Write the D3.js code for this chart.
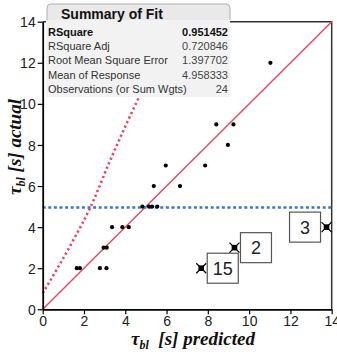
<!DOCTYPE html>
<html>
<head>
<meta charset="utf-8">
<script src="https://cdn.jsdelivr.net/npm/d3@7"></script>
<style>
  body { margin: 0; background: #fff; }
  svg { display: block; }
</style>
</head>
<body>
<div id="chart"></div>
<script>
// data
var predicted = [1.65, 1.8, 2.77, 3.09, 2.95, 3.1, 3.36, 3.86, 4.17, 4.83, 5.15, 5.3, 5.55, 5.38, 6.65, 5.96, 7.87, 8.97, 8.41, 9.24, 11.03];
var actual    = [2, 2, 2, 2, 3, 3, 4, 4, 4, 5, 5, 5, 5, 6, 6, 7, 7, 8, 9, 9, 12];

// excluded rows (labelled)
var exRows = ["15", "2", "3"];
var exPred = [7.68, 9.29, 13.75];
var exAct  = [2, 3, 4];

// confidence curve (dotted red)
var confX = [0, 1.5, 2.29, 3.25, 4.14, 4.85];
var confY = [0.78, 3.4, 4.92, 7.2, 9.21, 10.7];

var meanResponse = 4.958333;
var xTicks = [0, 2, 4, 6, 8, 10, 12, 14];
var yTicks = [0, 2, 4, 6, 8, 10, 12, 14];

var fitLabels = ["RSquare", "RSquare Adj", "Root Mean Square Error", "Mean of Response", "Observations (or Sum Wgts)"];
var fitValues = ["0.951452", "0.720846", "1.397702", "4.958333", "24"];

var W = 337, H = 352;
var svg = d3.select("#chart").append("svg")
    .attr("width", W)
    .attr("height", H);

var x = d3.scaleLinear().domain([0, 14]).range([42.7, 331.7]);
var y = d3.scaleLinear().domain([0, 14]).range([309.3, 21.7]);

var red = "#e8455e", blue = "#3f72d6";

// frame top/right
svg.append("path")
    .attr("d", "M" + x(0) + "," + y(14) + "H" + x(14) + "V" + y(0))
    .attr("fill", "none")
    .attr("stroke", "#333")
    .attr("stroke-width", 1.5);

// fit line y = x
svg.append("line")
    .attr("x1", x(0)).attr("y1", y(0))
    .attr("x2", x(14)).attr("y2", y(14))
    .attr("stroke", red)
    .attr("stroke-width", 1.4);

// confidence curve
svg.append("path")
    .datum(d3.zip(confX, confY))
    .attr("d", d3.line().x(function (d) { return x(d[0]); }).y(function (d) { return y(d[1]); }).curve(d3.curveMonotoneX))
    .attr("fill", "none")
    .attr("stroke", red)
    .attr("stroke-width", 2.6)
    .attr("stroke-dasharray", "2.2,2.8");

// mean line
svg.append("line")
    .attr("x1", x(0)).attr("x2", x(14))
    .attr("y1", y(meanResponse)).attr("y2", y(meanResponse))
    .attr("stroke", blue)
    .attr("stroke-width", 2.6)
    .attr("stroke-dasharray", "3,2.6");

// points
svg.append("g").selectAll("circle")
    .data(d3.zip(predicted, actual))
    .enter().append("circle")
    .attr("cx", function (d) { return x(d[0]); })
    .attr("cy", function (d) { return y(d[1]); })
    .attr("r", 2.1)
    .attr("fill", "#000");

// excluded markers + label boxes
var ex = svg.append("g").selectAll("g")
    .data(d3.range(exRows.length))
    .enter().append("g")
    .attr("transform", function (i) { return "translate(" + x(exPred[i]) + "," + y(exAct[i]) + ")"; });

ex.append("path")
    .attr("d", "M-5,-5L5,5M5,-5L-5,5")
    .attr("stroke", "#000")
    .attr("stroke-width", 1.2);
ex.append("rect")
    .attr("x", -2.8).attr("y", -2.8)
    .attr("width", 5.6).attr("height", 5.6)
    .attr("fill", "#000");

var bw = 31, bh = 30;
ex.each(function (i) {
    var g = d3.select(this);
    var bx = x(exPred[i]) + 6 + bw > x(14) ? -6 - bw : 6;
    g.append("rect")
        .attr("x", bx).attr("y", -bh / 2)
        .attr("width", bw).attr("height", bh)
        .attr("fill", "#fff")
        .attr("stroke", "#555")
        .attr("stroke-width", 1.2);
    g.append("text")
        .attr("x", bx + bw / 2).attr("y", 6.5)
        .attr("text-anchor", "middle")
        .attr("font-family", "Liberation Sans, Arial, sans-serif")
        .attr("font-size", 18)
        .attr("fill", "#222")
        .text(exRows[i]);
});

// axes
var xAxis = svg.append("g")
    .attr("transform", "translate(0," + y(0) + ")")
    .call(d3.axisBottom(x).tickValues(xTicks).tickSize(5).tickPadding(2).tickSizeOuter(0));
var yAxis = svg.append("g")
    .attr("transform", "translate(" + x(0) + ",0)")
    .call(d3.axisLeft(y).tickValues(yTicks).tickSize(5).tickPadding(2).tickSizeOuter(0));

[xAxis, yAxis].forEach(function (a) {
    a.select(".domain").attr("stroke", "#000").attr("stroke-width", 1.8);
    a.selectAll(".tick line").attr("stroke", "#000").attr("stroke-width", 1.2);
    a.selectAll(".tick text")
        .attr("font-family", "Liberation Sans, Arial, sans-serif")
        .attr("font-size", 14)
        .attr("fill", "#222");
});
yAxis.selectAll(".tick text").attr("dy", "0.36em");

// axis titles
var serif = "Liberation Serif, Times New Roman, serif";
function tauLabel(sel, rest) {
    sel.attr("font-family", serif)
        .attr("font-weight", "bold")
        .attr("font-style", "italic")
        .attr("font-size", 19)
        .attr("fill", "#111");
    sel.append("tspan").text("\u03c4");
    sel.append("tspan").attr("font-size", 12).attr("dy", 4).text("bl");
    sel.append("tspan").attr("dy", -4).attr("xml:space", "preserve").text(rest);
}
svg.append("text")
    .attr("x", 193).attr("y", 345)
    .attr("text-anchor", "middle")
    .call(tauLabel, "  [s] predicted");
svg.append("text")
    .attr("transform", "translate(21,147) rotate(-90)")
    .attr("text-anchor", "middle")
    .call(tauLabel, " [s] actual");

// Summary of Fit table
var tb = svg.append("g");
tb.append("rect")
    .attr("x", 46).attr("y", 20)
    .attr("width", 184).attr("height", 77)
    .attr("fill", "#f2f2f2");
tb.append("path")
    .attr("d", "M47,20V8Q47,4 51,4H226Q230,4 230,8V20")
    .attr("fill", "#e9e9e9")
    .attr("stroke", "#b0b0b0")
    .attr("stroke-width", 1);
tb.append("text")
    .attr("x", 61).attr("y", 18.5)
    .attr("font-family", "Liberation Sans, Arial, sans-serif")
    .attr("font-weight", "bold")
    .attr("font-size", 14)
    .attr("fill", "#111")
    .text("Summary of Fit");

var rows = tb.selectAll("g.row")
    .data(d3.range(fitLabels.length))
    .enter().append("g")
    .attr("class", "row")
    .attr("transform", function (i) { return "translate(0," + (36 + i * 14.2) + ")"; });
rows.append("text")
    .attr("x", 48)
    .attr("font-family", "Liberation Sans, Arial, sans-serif")
    .attr("font-size", 11)
    .attr("font-weight", function (i) { return i === 0 ? "bold" : null; })
    .attr("fill", function (i) { return i === 0 ? "#111" : "#333"; })
    .text(function (i) { return fitLabels[i]; });
rows.append("text")
    .attr("x", 228)
    .attr("text-anchor", "end")
    .attr("font-family", "Liberation Sans, Arial, sans-serif")
    .attr("font-size", 11)
    .attr("font-weight", function (i) { return i === 0 ? "bold" : null; })
    .attr("fill", function (i) { return i === 0 ? "#111" : "#444"; })
    .text(function (i) { return fitValues[i]; });
</script>
</body>
</html>
